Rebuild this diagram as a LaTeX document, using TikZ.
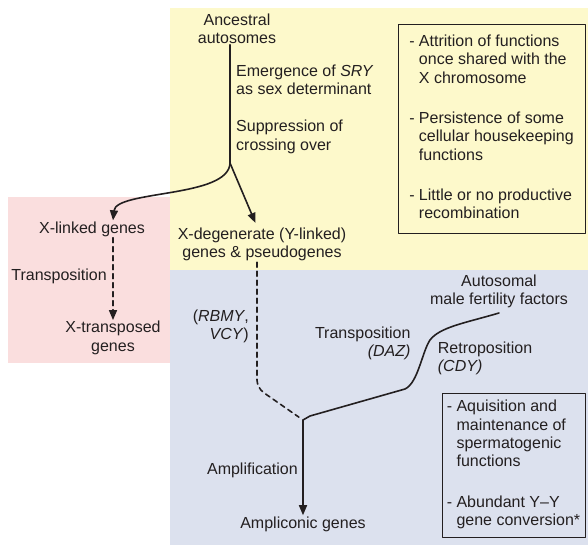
\documentclass[tikz,border=0pt]{standalone}
\usepackage{fontspec}
\setmainfont{Liberation Sans}
\usetikzlibrary{arrows.meta}
\definecolor{yelbg}{RGB}{253,249,203}
\definecolor{pinkbg}{RGB}{250,222,222}
\definecolor{bluebg}{RGB}{220,225,238}
\definecolor{ink}{RGB}{35,31,32}

\begin{document}
\begin{tikzpicture}[
        x=1pt, y=-1pt,
        line cap=round, line join=round,
        font=\fontsize{16}{18.3}\selectfont, text=ink,
        txt/.style={inner sep=1pt, align=#1},
        txt/.default=center,
        link/.style={draw=ink, line width=1.6pt},
        tip/.style={-{Triangle[length=10pt,width=8pt]}},
        dashlink/.style={link, dash pattern=on 5pt off 4pt},
        infobox/.style={draw=ink, line width=1pt, inner sep=0pt}
    ]
    \useasboundingbox (0,0) rectangle (588,545);
    \fill[yelbg] (170,8) rectangle (588,270);
    \fill[pinkbg] (8,197) rectangle (170,363);
    \fill[bluebg] (170,270) rectangle (588,545);

    \node[txt] (anc) at (237,28.5) {Ancestral\\autosomes};
    \node[txt=left, anchor=west] (sry) at (235,79.7) {Emergence of \textit{SRY}\\as sex determinant};
    \node[txt=left, anchor=west] (supp) at (235,136.9) {Suppression of\\crossing over};
    \coordinate (split) at (230,163);

    \node[txt] (xlink) at (92,229) {X-linked genes};
    \node[txt] (xdeg) at (262,244.4) {X-degenerate (Y-linked)\\genes \& pseudogenes};
    \node[txt] (xtr) at (113,337.9) {X-transposed\\genes};
    \node[txt, anchor=east] (trleft) at (108,275.9) {Transposition};
    \node[txt=right, anchor=east] (rbmy) at (250,326.7) {(\textit{RBMY},\\\textit{VCY})};

    \node[txt] (auto) at (499,291.7) {Autosomal\\male fertility factors};
    \node[txt=right, anchor=east] (daz) at (411.7,343.7) {Transposition\\\textit{(DAZ)}};
    \node[txt=left, anchor=west] (cdy) at (436.7,358.4) {Retroposition\\\textit{(CDY)}};
    \coordinate (bend) at (257,388);
    \coordinate (merge) at (303,420);
    \node[txt, anchor=east] (ampl) at (299,469.9) {Amplification};
    \node[txt] (amp) at (303,523.9) {Ampliconic genes};

    \node[infobox, minimum width=187pt, minimum height=208pt] (box1) at (491.5,129) {%
        \begin{tabular}{@{}l@{\hspace{4.4pt}}l@{}}
        - & Attrition of functions\\
          & once shared with the\\
          & X chromosome\\[22pt]
        - & Persistence of some\\
          & cellular housekeeping\\
          & functions\\[22pt]
        - & Little or no productive\\
          & recombination
        \end{tabular}};
    \node[infobox, minimum width=143pt, minimum height=144pt] (box2) at (513.5,465) {%
        \begin{tabular}{@{}l@{\hspace{4.4pt}}l@{}}
        - & Aquisition and\\
          & maintenance of\\
          & spermatogenic\\
          & functions\\[22pt]
        - & Abundant Y--Y\\
          & gene conversion*
        \end{tabular}};

    \draw[link] (anc.south -| split) -- (split);
    \draw[link, tip] (split) .. controls (229,198) and (116,190) .. (xlink.north -| xtr);
    \draw[link, tip, shorten >=4pt] (split) -- (xdeg.north -| bend);
    \draw[dashlink, tip] (xlink.south -| xtr) -- (xtr.north);
    \draw[dashlink, rounded corners=8pt, shorten >=5pt] (xdeg.south -| bend) -- (bend) -- (merge);
    \draw[link] ([yshift=-3.5pt]auto.south)
    .. controls (465,323) and (440,327) .. (430,340)
    .. controls (422,352) and (418,383) .. (405,389)
    -- (310,416) -- (merge);
    \draw[link, tip] (merge) -- (amp.north);
\end{tikzpicture}
\end{document}
